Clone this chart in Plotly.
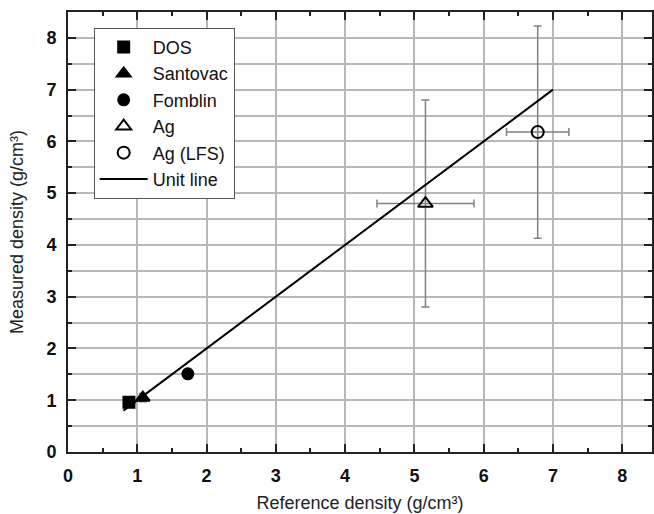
import plotly.graph_objects as go

# Measured vs. reference density for the test fluids and silver samples
names = ["DOS", "Santovac", "Fomblin", "Ag", "Ag (LFS)"]
ref_density = [0.88, 1.08, 1.73, 5.16, 6.78]
ref_err = [0.03, 0.03, 0.03, 0.70, 0.45]
meas_density = [0.96, 1.05, 1.51, 4.80, 6.18]
meas_err = [0.05, 0.08, 0.06, 2.00, 2.05]
symbols = ["square", "triangle-up", "circle", "triangle-up-open", "circle-open"]
sizes = [11, 12, 11, 13, 12]

unit_x = [0.8, 7.0]
unit_y = [0.8, 7.0]

x_ticks = [0, 1, 2, 3, 4, 5, 6, 7, 8]
y_ticks = [0, 1, 2, 3, 4, 5, 6, 7, 8]
half_steps = [v + 0.5 for v in x_ticks]

FONT = "Liberation Sans, Arial"
GRID = "#b8b8b8"

fig = go.Figure()

for i, name in enumerate(names):
    fig.add_trace(go.Scatter(
        x=[ref_density[i]], y=[meas_density[i]],
        mode="markers", name=name,
        marker=dict(symbol=symbols[i], size=sizes[i], color="black",
                    line=dict(color="black", width=2)),
        error_x=dict(type="data", array=[ref_err[i]], color="#808080",
                     thickness=1.5, width=4),
        error_y=dict(type="data", array=[meas_err[i]], color="#808080",
                     thickness=1.5, width=4),
    ))

fig.add_trace(go.Scatter(
    x=unit_x, y=unit_y, mode="lines", name="Unit line",
    line=dict(color="black", width=2),
))

axis_common = dict(
    showline=True, linecolor="#222", linewidth=2, mirror="allticks",
    ticks="inside", ticklen=8, tickwidth=1.5, tickcolor="#222",
    zeroline=False, showgrid=True, gridcolor=GRID, gridwidth=1.5,
    tickfont=dict(family=FONT, size=18, color="#111"),
    title_font=dict(family=FONT, size=18, color="#222"),
    ticklabelstandoff=6,
)

fig.update_xaxes(
    range=[0, 8.43], tickvals=x_ticks,
    ticktext=[f"<b>{t}</b>" for t in x_ticks],
    title_text="Reference density (g/cm³)", title_standoff=12,
    minor=dict(tickvals=half_steps, ticks="inside", ticklen=4,
               tickcolor="#222", showgrid=False),
    **axis_common,
)
fig.update_yaxes(
    range=[0, 8.5], tickvals=y_ticks,
    ticktext=[f"<b>{t}</b>" for t in y_ticks],
    title_text="Measured density (g/cm³)", title_standoff=18,
    minor=dict(tickvals=half_steps, ticks="inside",
               ticklen=4, tickcolor="#222", showgrid=True,
               gridcolor=GRID, gridwidth=1.5),
    **axis_common,
)

fig.update_layout(
    width=654, height=514,
    margin=dict(l=68, r=0, t=12, b=62),
    paper_bgcolor="white", plot_bgcolor="white",
    font=dict(family=FONT, color="#111"),
    legend=dict(
        x=0.044, y=0.964, xanchor="left", yanchor="top",
        bgcolor="white", bordercolor="#555", borderwidth=1,
        font=dict(family=FONT, size=18, color="#111"),
        tracegroupgap=0, itemwidth=48,
    ),
    showlegend=True,
)

fig.write_html("out.html")
